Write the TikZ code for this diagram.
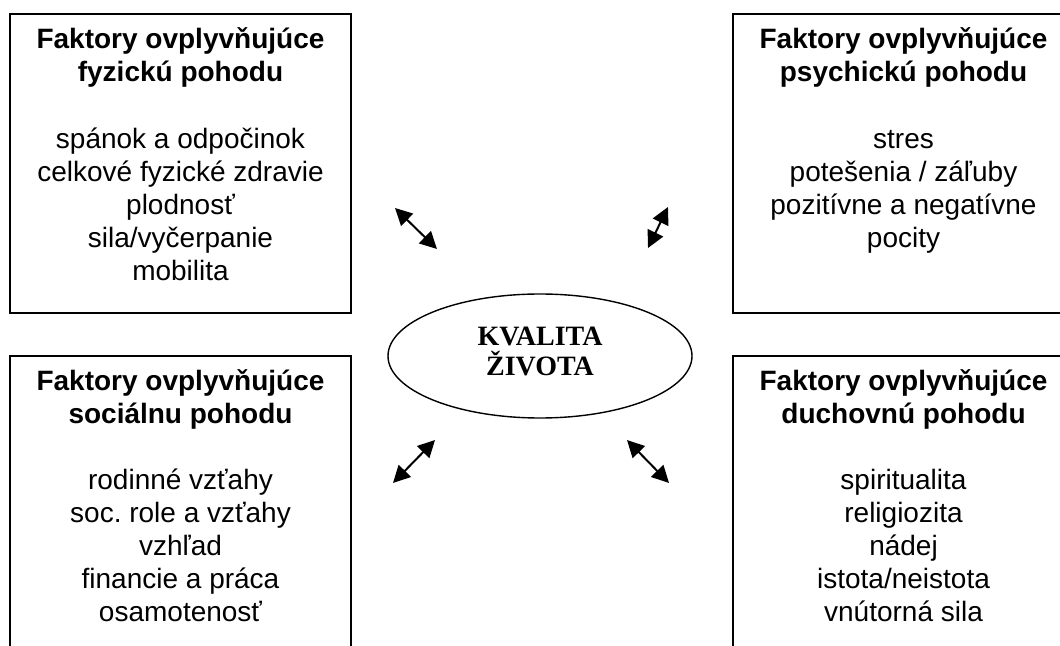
\documentclass[tikz,border=0pt]{standalone}
\usepackage{fontspec}
\setmainfont{Liberation Sans}
\newfontfamily\kvfont{Liberation Serif}
\usetikzlibrary{arrows.meta,shapes.geometric}
\frenchspacing

\tikzset{
  box/.style={draw,line width=0.7pt,minimum width=170.5pt,minimum height=149.5pt,inner sep=0pt},
  head/.style={font=\bfseries\fontsize{14}{16.5}\selectfont,align=center,anchor=base},
  items/.style={font=\fontsize{14}{16.5}\selectfont,align=center,anchor=base},
  dbl/.style={line width=1pt,{Triangle[length=8.5pt,width=8.5pt]}-{Triangle[length=8.5pt,width=8.5pt]}}
}

\begin{document}
\begin{tikzpicture}[x=0.5pt,y=-0.5pt]
  \useasboundingbox (0,0) rectangle (1060,646);
  \clip (0,0) rectangle (1060,646);
  % four boxes
  \node[box] (fyz) at (180.5,163.5) {};
  \node[box] (psy) at (903.5,163.5) {};
  \node[box] (soc) at (180.5,505.5) {};
  \node[box] (duch) at (903.5,505.5) {};
  \node[head] (fyz-h) at (180.5,82) {Faktory ovplyvňujúce\\fyzickú pohodu};
  \node[head] (psy-h) at (903.5,82) {Faktory ovplyvňujúce\\psychickú pohodu};
  \node[head] (soc-h) at (180.5,423) {Faktory ovplyvňujúce\\sociálnu pohodu};
  \node[head] (duch-h) at (903.5,423) {Faktory ovplyvňujúce\\duchovnú pohodu};
  \node[items] (fyz-t) at (180.5,281) {spánok a odpočinok\\celkové fyzické zdravie\\plodnosť\\sila/vyčerpanie\\mobilita};
  \node[items] (psy-t) at (903.5,248) {stres\\potešenia / záľuby\\pozitívne a negatívne\\pocity};
  \node[items] (soc-t) at (180.5,621) {rodinné vzťahy\\soc. role a vzťahy\\vzhľad\\financie a práca\\osamotenosť};
  \node[items] (duch-t) at (903.5,621) {spiritualita\\religiozita\\nádej\\istota/neistota\\vnútorná sila};
  % middle
  \node[draw,ellipse,line width=0.7pt,minimum width=152pt,minimum height=62pt,inner sep=0pt] (kz) at (540,356) {};
  \node[font=\kvfont\bfseries\fontsize{14}{15}\selectfont,align=center,anchor=base] (kz-t) at (540,376) {KVALITA\\ŽIVOTA};
  % arrows
  \coordinate (a1) at (395,208); \coordinate (b1) at (437,249);
  \coordinate (a2) at (668,207); \coordinate (b2) at (648,248);
  \coordinate (a3) at (435,440); \coordinate (b3) at (393,483);
  \coordinate (a4) at (627,440); \coordinate (b4) at (669,483);
  \draw[dbl] (a1) -- (b1);
  \draw[dbl] (a2) -- (b2);
  \draw[dbl] (a3) -- (b3);
  \draw[dbl] (a4) -- (b4);
\end{tikzpicture}
\end{document}
